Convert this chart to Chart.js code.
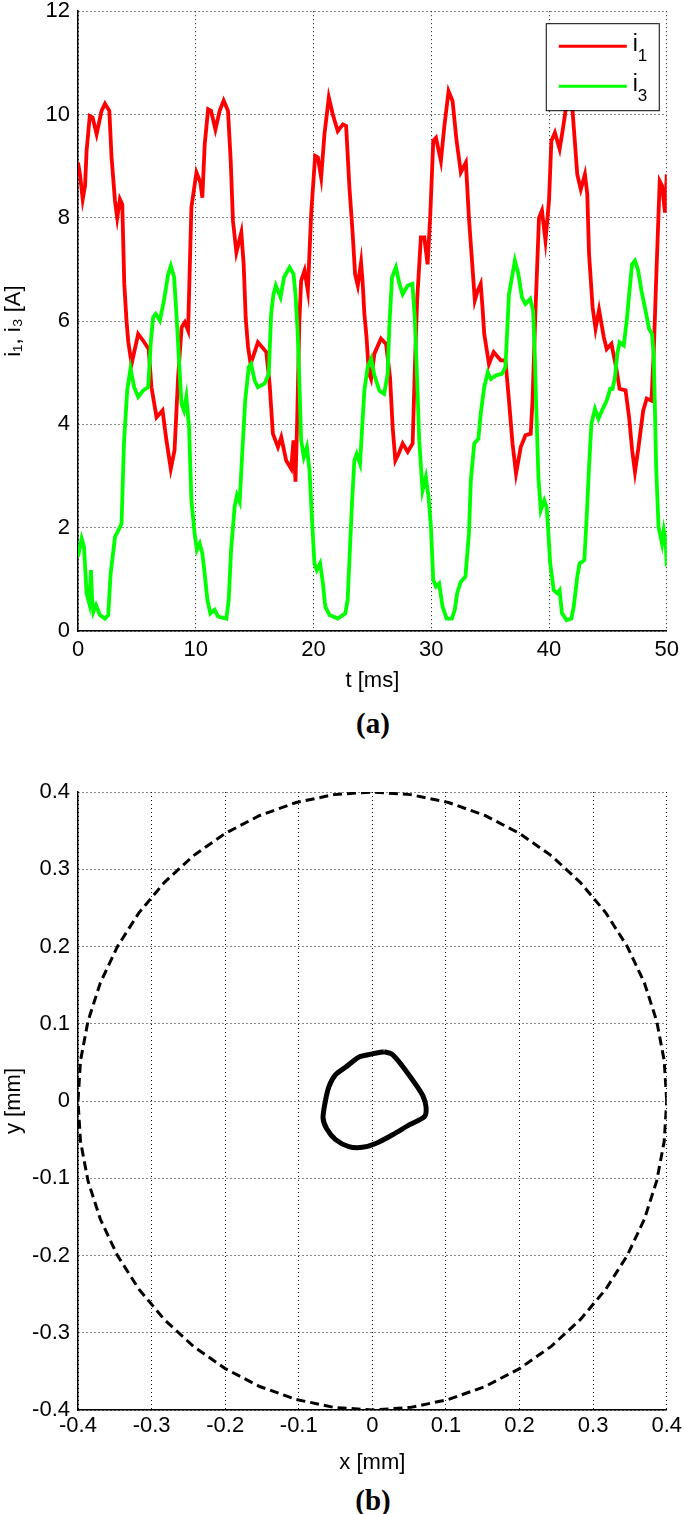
<!DOCTYPE html>
<html><head><meta charset="utf-8">
<script src="https://cdn.jsdelivr.net/npm/chart.js@4.4.1/dist/chart.umd.min.js"></script>
<style>
html,body{margin:0;padding:0;background:#fff;}
body{width:685px;height:1514px;position:relative;overflow:hidden;}
canvas{position:absolute;left:0;}
#c1{top:-10px;}
#c2{top:770px;}
.cap{position:absolute;left:78px;width:590px;text-align:center;font:bold 29px "Liberation Serif","Times New Roman",serif;line-height:32px;color:#000;}
</style></head><body>
<canvas id="c1" width="685" height="715"></canvas>
<canvas id="c2" width="685" height="710"></canvas>
<div class="cap" style="top:707px">(a)</div>
<div class="cap" style="top:1484px">(b)</div>
<script>
// ---------- data: chart (a) ----------
const t1 = [0,0.17,0.4,0.6,0.73,1.0,1.24,1.58,2.0,2.29,2.66,2.85,3.14,3.33,3.56,3.76,3.93,4.12,4.27,4.55,5.11,5.54,6.0,6.24,6.67,7.18,7.51,7.88,8.2,8.5,8.8,9.07,9.35,9.63,10.06,10.4,10.56,10.76,11.05,11.3,11.67,12.03,12.37,12.74,12.97,13.16,13.45,13.87,14.07,14.24,14.44,14.66,15.28,15.99,16.27,16.55,16.98,17.26,17.68,18.1,18.3,18.47,18.62,18.8,18.95,19.24,19.52,19.8,20.14,20.37,20.65,20.93,21.3,21.64,22.06,22.49,22.77,23.05,23.33,23.53,23.76,24.04,24.18,24.32,24.5,24.7,24.89,25.17,25.73,26.16,26.5,26.72,26.95,27.23,27.57,28.0,28.42,28.61,28.8,29.12,29.41,29.69,29.92,30.17,30.4,30.82,31.1,31.47,31.81,32.15,32.51,32.94,33.2,33.5,33.7,33.9,34.2,34.35,34.5,34.9,35.3,35.9,36.3,36.6,36.9,37.2,37.6,38.0,38.45,38.6,38.85,39.15,39.4,39.7,40.0,40.2,40.5,40.9,41.2,41.45,41.7,42.0,42.4,42.7,43.05,43.25,43.4,43.7,43.95,44.25,44.65,44.9,45.3,45.7,45.99,46.5,46.8,47.06,47.3,47.6,48.0,48.3,48.7,48.9,49.1,49.4,49.6,49.85,50.0];
const i1 = [9.07,8.84,8.36,8.62,9.3,9.97,9.94,9.62,10.07,10.21,10.07,9.17,8.33,8.0,8.36,8.26,6.72,6.01,5.6,5.17,5.75,5.62,5.46,4.72,4.14,4.27,3.69,3.14,3.5,4.91,5.88,5.98,5.82,8.2,8.88,8.68,8.39,9.42,10.1,10.07,9.71,10.07,10.27,10.07,9.1,7.94,7.33,7.72,7.1,6.07,5.5,5.17,5.59,5.4,4.79,3.82,3.56,3.75,3.3,3.14,3.69,2.89,4.14,6.0,6.78,6.98,6.59,8.07,9.2,9.17,8.78,9.62,10.33,10.0,9.68,9.81,9.78,8.59,7.68,6.91,6.69,7.14,6.72,6.14,5.7,5.0,4.88,5.37,5.66,5.56,4.91,3.95,3.3,3.43,3.63,3.47,3.63,5.11,6.4,7.62,7.62,7.1,8.07,9.49,9.55,9.1,9.75,10.45,10.26,9.49,8.88,9.07,8.0,7.04,6.4,6.56,6.72,6.27,5.75,5.17,5.4,5.24,5.24,4.46,3.63,3.05,3.56,3.79,3.82,4.46,6.2,8.0,8.14,7.56,8.33,9.49,9.65,9.33,9.75,10.15,10.26,10.07,8.84,8.55,8.84,8.46,7.3,6.27,5.85,6.22,5.69,5.46,5.56,5.11,4.69,4.66,4.14,3.5,3.08,3.56,4.27,4.5,4.46,5.43,6.8,8.71,8.62,8.1,8.84];
const t3 = [0,0.31,0.51,0.73,0.96,1.1,1.2,1.3,1.53,1.86,2.29,2.57,2.77,3.14,3.5,3.7,3.9,4.18,4.46,4.77,5.11,5.54,5.96,6.19,6.38,6.6,6.95,7.3,7.66,7.88,8.16,8.36,8.5,8.79,9.0,9.2,9.43,9.63,9.9,10.1,10.34,10.56,10.76,10.99,11.24,11.6,11.9,12.6,12.8,13.0,13.3,13.5,13.73,13.93,14.2,14.5,14.7,15.0,15.28,15.85,16.2,16.4,16.6,16.8,17.2,17.5,17.97,18.3,18.47,18.65,18.76,18.95,19.18,19.44,19.66,19.86,20.08,20.28,20.56,20.8,21.0,21.36,22.06,22.7,22.9,23.1,23.28,23.47,23.67,23.95,24.1,24.32,24.6,24.9,25.17,25.6,26.0,26.3,26.44,26.67,27.0,27.3,27.57,28.0,28.4,28.6,28.76,28.98,29.26,29.54,29.77,29.97,30.17,30.4,30.67,30.96,31.3,31.75,32.0,32.2,32.5,32.9,33.2,33.36,33.65,34.0,34.2,34.5,34.8,35.06,35.5,36.0,36.3,36.6,36.9,37.1,37.4,37.7,38.0,38.4,38.65,38.8,38.9,39.1,39.3,39.6,39.8,39.95,40.1,40.4,40.7,40.9,41.1,41.5,41.9,42.1,42.4,42.6,43.0,43.2,43.4,43.6,43.9,44.2,44.5,44.9,45.2,45.4,45.6,45.8,46.0,46.35,46.6,46.8,47.05,47.3,47.57,47.85,48.2,48.5,48.75,48.9,49.1,49.3,49.6,49.75,49.9,50.0];
const i3 = [1.44,1.79,1.63,0.73,0.53,1.18,0.6,0.37,0.5,0.31,0.24,0.31,1.11,1.82,1.98,2.08,3.63,4.66,5.08,4.72,4.53,4.66,4.72,5.62,6.07,6.14,6.01,6.4,6.91,7.07,6.85,6.14,5.56,4.4,4.27,4.53,3.95,2.53,1.89,1.57,1.69,1.5,1.11,0.6,0.34,0.41,0.28,0.24,0.6,1.57,2.4,2.63,2.5,3.37,4.46,5.11,5.17,4.85,4.72,4.79,4.98,6.14,6.52,6.69,6.46,6.85,7.04,6.91,6.52,5.8,5.11,3.69,3.37,3.56,3.11,2.21,1.31,1.18,1.31,0.92,0.47,0.31,0.24,0.34,0.6,1.63,2.53,3.3,3.43,3.24,3.82,4.66,5.11,5.27,4.95,4.65,4.59,4.98,5.9,6.85,7.04,6.72,6.52,6.69,6.72,6.07,5.11,3.69,2.72,2.98,2.6,2.02,0.99,0.86,0.92,0.47,0.24,0.24,0.41,0.73,0.95,1.05,1.89,2.92,3.63,3.72,4.21,4.72,5.01,4.88,4.95,4.98,5.11,6.52,6.91,7.17,6.91,6.46,6.33,6.43,6.2,5.3,4.46,2.98,2.34,2.53,2.4,1.89,1.31,0.79,0.73,0.79,0.34,0.21,0.24,0.47,1.05,1.31,1.37,2.21,3.18,4.01,4.3,4.11,4.27,4.46,4.69,4.69,4.91,5.37,5.59,5.53,6.01,6.5,7.1,7.17,6.98,6.59,6.2,5.85,5.75,5.3,3.18,2.02,1.69,1.95,1.76,1.25];
const seriesLabels = ['i1','i3'];
const tTickVals = [0,10,20,30,40,50];
const tTickLabels = ['0','10','20','30','40','50'];
const iTickVals = [0,2,4,6,8,10,12];
const iTickLabels = ['0','2','4','6','8','10','12'];

// ---------- data: chart (b) ----------
const circleX = [0.4,0.3966,0.3864,0.3696,0.3464,0.3173,0.2828,0.2435,0.2,0.1531,0.1035,0.0522,0,-0.0522,-0.1035,-0.1531,-0.2,-0.2435,-0.2828,-0.3173,-0.3464,-0.3696,-0.3864,-0.3966,-0.4,-0.3966,-0.3864,-0.3696,-0.3464,-0.3173,-0.2828,-0.2435,-0.2,-0.1531,-0.1035,-0.0522,0,0.0522,0.1035,0.1531,0.2,0.2435,0.2828,0.3173,0.3464,0.3696,0.3864,0.3966,0.4];
const circleY = [0,0.0522,0.1035,0.1531,0.2,0.2435,0.2828,0.3173,0.3464,0.3696,0.3864,0.3966,0.4,0.3966,0.3864,0.3696,0.3464,0.3173,0.2828,0.2435,0.2,0.1531,0.1035,0.0522,0,-0.0522,-0.1035,-0.1531,-0.2,-0.2435,-0.2828,-0.3173,-0.3464,-0.3696,-0.3864,-0.3966,-0.4,-0.3966,-0.3864,-0.3696,-0.3464,-0.3173,-0.2828,-0.2435,-0.2,-0.1531,-0.1035,-0.0522,0];
const orbitX = [0.0158,0,-0.018,-0.036,-0.050,-0.059,-0.064,-0.067,-0.062,-0.050,-0.032,-0.0136,0.0045,0.027,0.050,0.071,0.073,0.069,0.060,0.048,0.036,0.026,0.0158];
const orbitY = [0.0638,0.061,0.057,0.044,0.034,0.0185,-0.001,-0.022,-0.036,-0.050,-0.059,-0.060,-0.055,-0.044,-0.031,-0.020,-0.008,0.006,0.020,0.036,0.051,0.061,0.0638];
const mmTickVals = [-0.4,-0.3,-0.2,-0.1,0,0.1,0.2,0.3,0.4];
const mmTickLabels = ['-0.4','-0.3','-0.2','-0.1','0','0.1','0.2','0.3','0.4'];

// ---------- setup ----------
const FONT = '"Liberation Sans", Arial, Helvetica, sans-serif';
Chart.defaults.font.family = FONT;
Chart.defaults.color = '#000';

const pts = (xs, ys) => xs.map((x, k) => ({x: x, y: ys[k]}));
const fixTicks = (vals) => (s) => { s.ticks = vals.map(v => ({value: v})); };

function axis(opts) {
  return Object.assign({
    type: 'linear',
    grid: {color: '#111', lineWidth: 1, drawTicks: false},
    border: {display: true, color: '#000', width: 1.5, dash: [1, 3]},
  }, opts);
}

const boxLegend = {
  id: 'boxLegend',
  afterDraw(chart) {
    const ca = chart.chartArea, ctx = chart.ctx;
    const w = 113, h = 87, x = ca.right - 8 - w, y = ca.top + 12;
    ctx.save();
    ctx.fillStyle = '#fff';
    ctx.fillRect(x, y, w, h);
    ctx.strokeStyle = '#000';
    ctx.lineWidth = 1;
    ctx.strokeRect(x + 0.5, y + 0.5, w, h);
    chart.data.datasets.forEach((ds, i) => {
      const ly = y + 23 + i * 40;
      ctx.strokeStyle = ds.borderColor;
      ctx.lineWidth = 3;
      ctx.beginPath(); ctx.moveTo(x + 13, ly); ctx.lineTo(x + 81, ly); ctx.stroke();
      ctx.fillStyle = '#000';
      ctx.textBaseline = 'alphabetic';
      ctx.font = '23px ' + FONT;
      const base = ds.label.charAt(0), sub = ds.label.slice(1);
      ctx.fillText(base, x + 87, ly + 5);
      const bw = ctx.measureText(base).width;
      ctx.font = '17px ' + FONT;
      ctx.fillText(sub, x + 87 + bw, ly + 15);
    });
    ctx.restore();
  }
};

new Chart(document.getElementById('c1'), {
  type: 'line',
  data: {datasets: [
    {label: seriesLabels[0], data: pts(t1, i1), borderColor: '#ff0000', backgroundColor: '#ff0000', borderWidth: 3.8, pointRadius: 0, tension: 0, fill: false, order: 1},
    {label: seriesLabels[1], data: pts(t3, i3), borderColor: '#00ff00', backgroundColor: '#00ff00', borderWidth: 3.8, pointRadius: 0, tension: 0, fill: false, order: 0}
  ]},
  options: {
    responsive: false, animation: false, devicePixelRatio: 1,
    layout: {padding: {top: 20, right: 17, left: 0, bottom: 0}},
    plugins: {legend: {display: false}, tooltip: {enabled: false}},
    scales: {
      x: axis({min: 0, max: 50, afterBuildTicks: fixTicks(tTickVals), afterFit: s => { s.height = 74; },
        ticks: {callback: (v, i) => tTickLabels[i], font: {size: 22}, padding: 6, maxRotation: 0, autoSkip: false},
        title: {display: true, text: 't [ms]', font: {size: 22}, padding: {top: 0, bottom: 11}}}),
      y: axis({min: 0, max: 12, afterBuildTicks: fixTicks(iTickVals), afterFit: s => { s.width = 78; },
        ticks: {callback: (v, i) => iTickLabels[i], font: {size: 22}, padding: 8, autoSkip: false},
        title: {display: true, text: 'i\u2081, i\u2083 [A]', font: {size: 22}, padding: {top: 1, bottom: 0}}})
    }
  },
  plugins: [boxLegend]
});

new Chart(document.getElementById('c2'), {
  type: 'scatter',
  data: {datasets: [
    {label: 'clearance', data: pts(circleX, circleY), showLine: true, borderColor: '#000', borderWidth: 3, borderDash: [9, 5], pointRadius: 0, tension: 0, fill: false},
    {label: 'orbit', data: pts(orbitX, orbitY), showLine: true, borderColor: '#000', borderWidth: 5, pointRadius: 0, tension: 0.25, fill: false}
  ]},
  options: {
    responsive: false, animation: false, devicePixelRatio: 1,
    layout: {padding: {top: 22, right: 17, left: 0, bottom: 0}},
    plugins: {legend: {display: false}, tooltip: {enabled: false}},
    scales: {
      x: axis({min: -0.4, max: 0.4, afterBuildTicks: fixTicks(mmTickVals), afterFit: s => { s.height = 70; },
        ticks: {callback: (v, i) => mmTickLabels[i], font: {size: 22}, padding: 3, maxRotation: 0, autoSkip: false},
        title: {display: true, text: 'x [mm]', font: {size: 22}, padding: {top: 0, bottom: 4}}}),
      y: axis({min: -0.4, max: 0.4, afterBuildTicks: fixTicks(mmTickVals), afterFit: s => { s.width = 78; },
        ticks: {callback: (v, i) => mmTickLabels[i], font: {size: 22}, padding: 8, autoSkip: false},
        title: {display: true, text: 'y [mm]', font: {size: 22}, padding: {top: 1, bottom: 0}}})
    }
  }
});
</script>
</body></html>
